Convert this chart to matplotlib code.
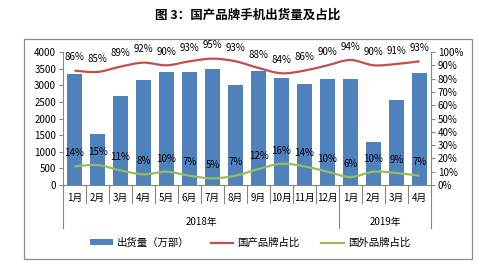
import numpy as np
import matplotlib
matplotlib.use('Agg')
import matplotlib.pyplot as plt
import matplotlib.transforms as mtransforms
from matplotlib.path import Path
from matplotlib.patches import PathPatch, Rectangle
from matplotlib.lines import Line2D

plt.rcParams['font.family'] = ['Noto Sans CJK SC', 'DejaVu Sans']

# data
months = ['1月', '2月', '3月', '4月', '5月', '6月', '7月', '8月', '9月', '10月', '11月', '12月',
          '1月', '2月', '3月', '4月']
years = ['2018年', '2019年']
year_sizes = [12, 4]
shipments = [3330, 1520, 2680, 3150, 3390, 3390, 3500, 3000, 3430, 3230, 3030, 3200,
             3180, 1300, 2570, 3370]
domestic = [86, 85, 89, 92, 90, 93, 95, 93, 88, 84, 86, 90, 94, 90, 91, 93]
foreign = [14, 15, 11, 8, 10, 7, 5, 7, 12, 16, 14, 10, 6, 10, 9, 7]

BLUE = '#4F81BD'
RED = '#C0504D'
GREEN = '#9BBB59'
GRAY = '#868686'
FS = 7


def smooth_path(xs, ys):
    # catmull-rom style bezier through the points (like Excel's smoothed line)
    pts = np.column_stack([xs, ys]).astype(float)
    ext = np.vstack([pts[0], pts, pts[-1]])
    verts = [pts[0]]
    codes = [Path.MOVETO]
    for i in range(len(pts) - 1):
        p0, p1, p2, p3 = ext[i], ext[i + 1], ext[i + 2], ext[i + 3]
        verts += [p1 + (p2 - p0) / 6, p2 - (p3 - p1) / 6, p2]
        codes += [Path.CURVE4] * 3
    return Path(verts, codes)


fig = plt.figure(figsize=(5, 2.76), dpi=100)
fig.patches.append(Rectangle((0.048, 0.062), 0.896, 0.797, transform=fig.transFigure,
                             fill=False, edgecolor='#8c8c8c', linewidth=0.9))

ax = fig.add_axes([0.126, 0.3297, 0.736, 0.4819])
x = np.arange(len(months))
bars = ax.bar(x, shipments, width=0.65, color=BLUE, zorder=2)
ax.set_xlim(-0.5, len(months) - 0.5)
ax.set_ylim(0, 4000)
ax.set_yticks(np.arange(0, 4001, 500))
ax.tick_params(axis='y', labelsize=FS, length=3, color=GRAY, pad=2)
ax.set_xticks(x)
ax.set_xticklabels(months, fontsize=FS)
ax.tick_params(axis='x', length=0, pad=6)
for s in ['top', 'right']:
    ax.spines[s].set_visible(False)
for s in ['left', 'bottom']:
    ax.spines[s].set_color(GRAY)
    ax.spines[s].set_linewidth(0.8)

# category separators below the axis
trans = mtransforms.blended_transform_factory(ax.transData, ax.transAxes)
long_bounds = np.cumsum([0] + year_sizes) - 0.5
for b in np.arange(-0.5, len(months)):
    depth = -0.323 if b in long_bounds else -0.135
    ax.add_line(Line2D([b, b], [0, depth], transform=trans, color=GRAY,
                       linewidth=0.8, clip_on=False))
start = 0
for name, n in zip(years, year_sizes):
    ax.text(start + (n - 1) / 2, -0.278, name, transform=trans, ha='center',
            va='center', fontsize=FS)
    start += n

ax2 = ax.twinx()
ax2.set_ylim(0, 100)
ax2.set_yticks(np.arange(0, 101, 10))
ax2.set_yticklabels([f'{v}%' for v in range(0, 101, 10)])
ax2.tick_params(axis='y', labelsize=FS, length=3, color=GRAY, pad=2)
for s in ['top', 'left', 'bottom']:
    ax2.spines[s].set_visible(False)
ax2.spines['right'].set_color(GRAY)
ax2.spines['right'].set_linewidth(0.8)

ax2.add_patch(PathPatch(smooth_path(x, domestic), fill=False, edgecolor=RED,
                        linewidth=1.6, zorder=3))
ax2.add_patch(PathPatch(smooth_path(x, foreign), fill=False, edgecolor=GREEN,
                        linewidth=1.6, zorder=3))
for xi, v in zip(x, domestic):
    ax2.annotate(f'{v}%', (xi, v), xytext=(0, 9.5), textcoords='offset points',
                 ha='center', va='center', fontsize=FS)
for xi, v in zip(x, foreign):
    ax2.annotate(f'{v}%', (xi, v), xytext=(0, 9.5), textcoords='offset points',
                 ha='center', va='center', fontsize=FS)

fig.text(0.496, 1 - 15 / 276, '图 3：国产品牌手机出货量及占比', ha='center', va='center',
         fontsize=9, fontweight='bold')

handles = [bars,
           Line2D([], [], color=RED, linewidth=1.6),
           Line2D([], [], color=GREEN, linewidth=1.6)]
labels = ['出货量（万部）', '国产品牌占比', '国外品牌占比']
fig.legend(handles, labels, loc='center', bbox_to_anchor=(0.5, 1 - 243 / 276), ncol=3,
           frameon=False, fontsize=FS + 0.5, handlelength=2.2, handleheight=0.5,
           columnspacing=2.0, handletextpad=0.4)

fig.savefig('out.png', dpi=100)
